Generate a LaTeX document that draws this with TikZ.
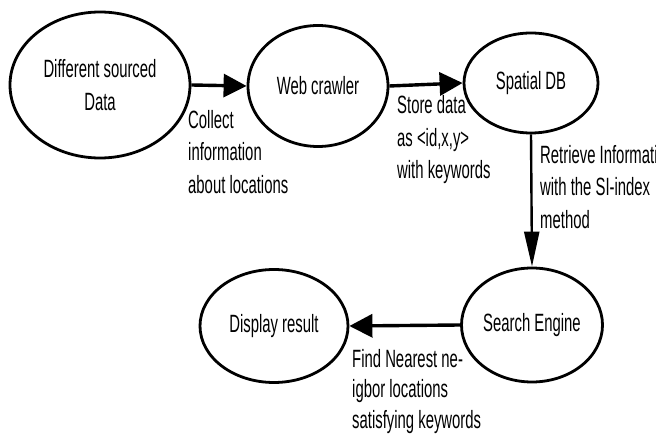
\documentclass[tikz,border=0pt]{standalone}
\usepackage{fontspec}
\setmainfont{Liberation Sans}[FakeStretch=0.595]
\usetikzlibrary{arrows.meta,shapes.geometric}
\tikzset{
  proc/.style={draw=black, line width=2.8pt, ellipse, inner sep=0pt, align=center,
    font=\fontsize{25}{33}\selectfont},
  lbl/.style={anchor=north west, inner sep=0pt, align=left,
    font=\fontsize{25}{32.5}\selectfont},
  harrow/.style={line width=3.4pt, -{Triangle[length=23pt,width=23pt]}},
  varrow/.style={line width=2.4pt, -{Triangle[length=35pt,width=15pt]}}
}
\begin{document}
\begin{tikzpicture}[x=1pt,y=-1pt]
\clip (0,0) rectangle (656,435);
\fill[white] (0,0) rectangle (656,435);
\node[proc, minimum width=180pt, minimum height=146pt] (src) at (100,85) {Different sourced\\Data};
\node[proc, minimum width=140pt, minimum height=121pt] (web) at (318,86) {Web crawler};
\node[proc, minimum width=134pt, minimum height=100pt] (db) at (531,83) {Spatial DB};
\node[proc, minimum width=141pt, minimum height=114pt] (se) at (532,325) {Search Engine};
\node[proc, minimum width=148pt, minimum height=113pt] (disp) at (274,326) {Display result};

\draw[harrow] (src.east) -- (web.west);
\draw[harrow] (web.east) -- (db.west);
\draw[varrow] (db.south) -- (se.north);
\draw[harrow] (se.west) -- (disp.east);

\node[lbl] (l1) at (188,110) {Collect\\information\\about locations};
\node[lbl] (l2) at (397,95.5) {Store data\\as <id,x,y>\\with keywords};
\node[lbl] (l3) at (540,145) {Retrieve Information\\with the SI-index\\method};
\node[lbl, font=\fontsize{25}{30.5}\selectfont] (l4) at (352,349) {Find Nearest ne-\\igbor locations\\satisfying keywords};
\end{tikzpicture}
\end{document}
